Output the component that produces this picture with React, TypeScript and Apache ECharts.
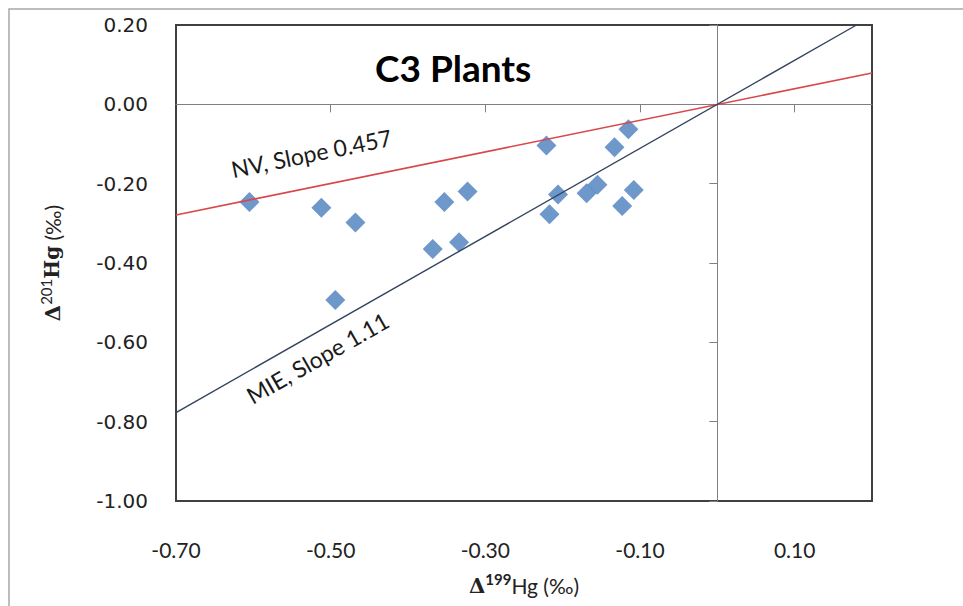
import React, { useEffect, useRef } from "react";
import * as echarts from "echarts";

// Δ199Hg (x) and Δ201Hg (y) of C3 plants
const d199: number[] = [-0.605, -0.512, -0.468, -0.494, -0.368, -0.353, -0.334, -0.323, -0.221, -0.217, -0.206, -0.169, -0.155, -0.133, -0.115, -0.123, -0.108];
const d201: number[] = [-0.246, -0.261, -0.298, -0.493, -0.365, -0.246, -0.348, -0.220, -0.104, -0.277, -0.227, -0.224, -0.203, -0.108, -0.063, -0.256, -0.216];

// reference lines
const nvX: number[] = [-0.7, 0.2];
const nvY: number[] = [-0.279, 0.079];
const mieX: number[] = [-0.7, 0.18];
const mieY: number[] = [-0.777, 0.2];

const xLabelValues: number[] = [-0.7, -0.5, -0.3, -0.1, 0.1];
const xTickValues: number[] = [-0.5, -0.3, -0.1, 0.1];

const nvText = "NV, Slope 0.457";
const mieText = "MIE, Slope 1.11";
const nvAnchor: number[] = [-0.525, -0.123];
const mieAnchor: number[] = [-0.517, -0.639];

export default function App() {
  const ref = useRef<HTMLDivElement>(null);
  useEffect(() => {
    document.body.style.margin = "0";
    const chart = echarts.init(ref.current!, undefined, { renderer: "svg" });
    const labelFont = { fontFamily: "DejaVu Sans", fontSize: 20, color: "#222" };
    const option: any = {
      animation: false,
      backgroundColor: "#fff",
      title: {
        text: "C3 Plants",
        left: 370,
        top: 44,
        textStyle: { fontFamily: "Lato", fontSize: 37, fontWeight: "bold", color: "#000" },
      },
      grid: {
        left: 176,
        top: 25,
        width: 696,
        height: 476,
        show: true,
        borderColor: "#404040",
        borderWidth: 2,
        backgroundColor: "transparent",
      },
      xAxis: [
        {
          type: "value",
          min: -0.7,
          max: 0.2,
          interval: 0.1,
          position: "bottom",
          axisLine: { show: false, onZero: false },
          axisTick: { show: false },
          splitLine: { show: false },
          axisLabel: {
            customValues: xLabelValues,
            formatter: (v: number) => v.toFixed(2),
            margin: 38,
            fontFamily: "Lato",
            fontSize: 21,
            color: "#222",
          },
          name: "{b|Δ}{bs|199}{n|Hg (‰)}",
          nameLocation: "middle",
          nameGap: 70,
          nameTextStyle: {
            rich: {
              b: { fontFamily: "DejaVu Serif", fontWeight: "bold", fontSize: 21, color: "#222", lineHeight: 28 },
              bs: { fontFamily: "Lato", fontWeight: "bold", fontSize: 15, color: "#222", verticalAlign: "top" },
              n: { fontFamily: "Lato", fontSize: 21, color: "#222", lineHeight: 28 },
            },
          },
        },
        {
          type: "value",
          min: -0.7,
          max: 0.2,
          interval: 0.1,
          position: "bottom",
          axisLine: { show: true, onZero: true, onZeroAxisIndex: 0, lineStyle: { color: "#808080", width: 1 } },
          axisTick: { show: true, length: 8, customValues: xTickValues, lineStyle: { color: "#808080" } },
          axisLabel: { show: false },
          splitLine: { show: false },
        },
      ],
      yAxis: [
        {
          type: "value",
          min: -1,
          max: 0.2,
          interval: 0.2,
          position: "left",
          axisLine: { show: false, onZero: false },
          axisTick: { show: false },
          splitLine: { show: false },
          axisLabel: { formatter: (v: number) => v.toFixed(2), margin: 28, ...labelFont },
          name: "{b|Δ}{s|201}{b2|Hg}{n| (‰)}",
          nameLocation: "middle",
          nameGap: 110,
          nameTextStyle: {
            rich: {
              b: { fontFamily: "DejaVu Serif", fontWeight: "bold", fontSize: 21, color: "#222", lineHeight: 28 },
              s: { fontFamily: "Lato", fontSize: 15, color: "#222", verticalAlign: "top" },
              b2: { fontFamily: "DejaVu Serif", fontWeight: "bold", fontSize: 20, color: "#222", lineHeight: 28 },
              n: { fontFamily: "Lato", fontSize: 21, color: "#222", lineHeight: 28 },
            },
          },
        },
        {
          type: "value",
          min: -1,
          max: 0.2,
          interval: 0.2,
          position: "left",
          axisLine: { show: true, onZero: true, onZeroAxisIndex: 0, lineStyle: { color: "#808080", width: 1 } },
          axisTick: { show: true, length: 8, lineStyle: { color: "#808080" } },
          axisLabel: { show: false },
          splitLine: { show: false },
        },
      ],
      series: [
        {
          type: "line",
          xAxisIndex: 0,
          yAxisIndex: 0,
          data: nvX.map((x, i) => [x, nvY[i]]),
          symbol: "none",
          lineStyle: { color: "#d9474a", width: 1.6 },
          silent: true,
        },
        {
          type: "line",
          xAxisIndex: 0,
          yAxisIndex: 0,
          data: mieX.map((x, i) => [x, mieY[i]]),
          symbol: "none",
          lineStyle: { color: "#34435f", width: 1.4 },
          silent: true,
        },
        {
          type: "scatter",
          xAxisIndex: 0,
          yAxisIndex: 0,
          data: d199.map((x, i) => [x, d201[i]]),
          symbol: "diamond",
          symbolSize: 20,
          itemStyle: { color: "#4a7dbd" },
        },
      ],
    };
    chart.setOption(option);

    const px = (p: number[]) => chart.convertToPixel({ gridIndex: 0 }, p) as number[];
    const angleOf = (xs: number[], ys: number[]) => {
      const a = px([xs[0], ys[0]]);
      const b = px([xs[1], ys[1]]);
      return Math.atan2(a[1] - b[1], b[0] - a[0]);
    };
    const nvP = px(nvAnchor);
    const mieP = px(mieAnchor);
    const annoStyle = { fontFamily: "Lato", fontSize: 23, fill: "#1a1a1a", align: "center", verticalAlign: "middle" };
    chart.setOption({
      graphic: [
        {
          type: "rect",
          silent: true,
          shape: { x: 9, y: 9, width: 1000, height: 1000 },
          style: { fill: "none", stroke: "#a8a8a8", lineWidth: 1.5 },
        },
        { type: "text", x: nvP[0], y: nvP[1], rotation: angleOf(nvX, nvY), style: { text: nvText, ...annoStyle } },
        { type: "text", x: mieP[0], y: mieP[1], rotation: angleOf(mieX, mieY), style: { text: mieText, ...annoStyle } },
      ],
    });
    return () => chart.dispose();
  }, []);
  return <div ref={ref} style={{ width: 963, height: 606 }} />;
}
